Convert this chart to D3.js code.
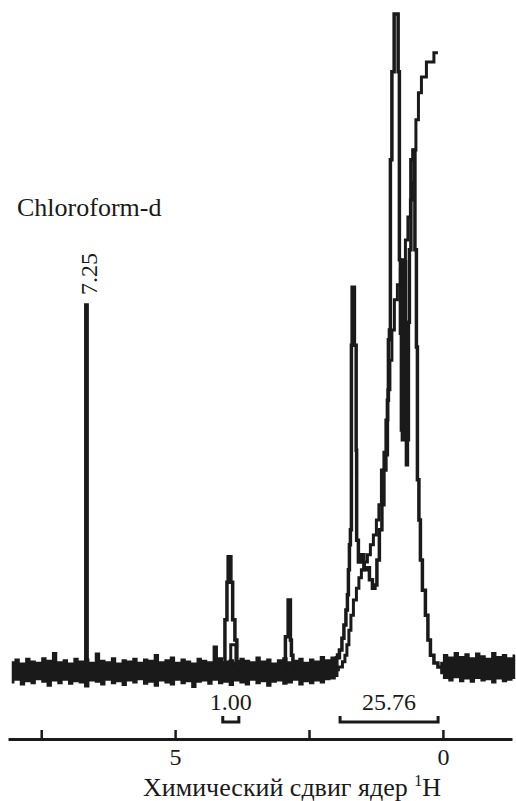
<!DOCTYPE html>
<html>
<head>
<meta charset="utf-8">
<script src="https://cdn.jsdelivr.net/npm/d3@7"></script>
<style>
  body { margin: 0; background: #fff; }
  svg { display: block; }
</style>
</head>
<body>
<svg id="chart" width="516" height="801"></svg>
<script>
//
// Data (ppm, intensity in % of tallest line)
//

var solventLabel = 'Chloroform-d'
var solventShift = '7.25'
var solventPeak = [[6.68, 0], [6.655, 55.7], [6.63, 0]]

var peakA = [[4.09, 1.7], [4.05, 7.8], [4.014, 13.5], [4.005, 17.4], [3.968, 17.4],
  [3.949, 13.5], [3.902, 7.8], [3.865, 4.7], [3.828, 1.4], [3.79, 0]]

var peakB = [[2.95, 0], [2.931, 5.2], [2.894, 5.2], [2.885, 10.8], [2.857, 10.8],
  [2.838, 4.7], [2.819, 2.4], [2.782, 0]]

var cluster = [[2.297, 0], [2.147, 0.5], [2.016, 1.1], [1.96, 2.0], [1.904, 3.2],
  [1.867, 5.0], [1.83, 7.0], [1.792, 9.3], [1.774, 11.6], [1.755, 15.4], [1.736, 19.2],
  [1.718, 21.5], [1.699, 49.6], [1.69, 58.4], [1.662, 58.4], [1.643, 49.6], [1.624, 49.6],
  [1.615, 33.6], [1.606, 19.9], [1.55, 16.6], [1.494, 17.7], [1.456, 15.4], [1.40, 15.7],
  [1.344, 13.9], [1.288, 12.6], [1.251, 13.1], [1.214, 16.9], [1.158, 21.5], [1.12, 25.3],
  [1.083, 30.6], [1.046, 32.9], [1.027, 41.2], [1.008, 50.4], [0.99, 51.9], [0.971, 77.8],
  [0.934, 91.2], [0.887, 100], [0.85, 100], [0.822, 91.2], [0.803, 62.6], [0.784, 51.4],
  [0.766, 36.7], [0.747, 35.2], [0.728, 61.5], [0.709, 62.3], [0.691, 35.2], [0.672, 31.4],
  [0.653, 35.2], [0.635, 53.1], [0.616, 64.1], [0.579, 77.8], [0.541, 79.3], [0.504, 64.1],
  [0.485, 49.3], [0.467, 29.1], [0.429, 23.0], [0.411, 16.9], [0.355, 12.3], [0.299, 8.5],
  [0.261, 4.7], [0.205, 2.4], [0.131, 1.2], [0.056, 0.6], [-0.037, 0]]

var integralSmall = [[4.02, 0.8], [3.902, 4.0], [3.828, 0.9]]

var integralBig = [[2.203, 0], [1.998, 0.2], [1.904, 0.6], [1.848, 1.4], [1.811, 2.4],
  [1.774, 4.0], [1.736, 6.2], [1.699, 8.5], [1.643, 10.8], [1.587, 12.6], [1.55, 14.2],
  [1.494, 15.4], [1.438, 16.6], [1.382, 17.7], [1.326, 19.2], [1.27, 20.7], [1.214, 23.0],
  [1.176, 25.3], [1.12, 30.6], [1.083, 33.3], [1.046, 38.2], [1.008, 42.8], [0.971, 47.3],
  [0.934, 51.9], [0.878, 56.5], [0.822, 58.8], [0.766, 61.0], [0.728, 62.6], [0.672, 65.6],
  [0.635, 69.1], [0.579, 71.7], [0.56, 74.3], [0.523, 79.3], [0.485, 83.9], [0.429, 88.0],
  [0.373, 90.4], [0.243, 92.7], [0.093, 94.1]]

// baseline noise envelope, one value every 0.1 ppm
var noiseLeftStart = 8.05
var noiseLeftTop = [1.5, 1.9, 1.3, 2.0, 1.6, 1.4, 2.1, 1.7, 2.9, 1.5,
  1.8, 1.3, 2.0, 1.6, 1.9, 1.4, 2.8, 1.7, 1.5, 2.1,
  1.3, 1.8, 1.6, 2.0, 1.4, 1.9, 1.7, 2.6, 1.5, 1.8,
  2.2, 1.4, 1.9, 1.6, 1.3, 2.0, 1.7, 1.5, 3.9, 2.1,
  1.6, 1.8, 1.4, 2.0, 1.7, 1.5, 2.2, 1.6, 1.9, 1.3,
  1.8, 2.1, 1.5, 1.7, 2.0, 1.4, 1.9, 1.6, 2.3, 1.8,
  2.2, 2.7]
var noiseLeftBot = [-1.9, -1.5, -2.2, -1.7, -2.0, -1.4, -1.8, -2.4, -1.6, -2.0,
  -1.5, -2.1, -1.7, -1.9, -2.5, -1.6, -1.8, -2.2, -1.5, -2.0,
  -1.7, -2.3, -1.6, -1.9, -1.4, -2.1, -1.8, -2.4, -1.6, -1.9,
  -2.2, -1.5, -2.0, -1.7, -2.6, -1.8, -1.6, -2.1, -1.5, -2.0,
  -1.8, -2.3, -1.6, -1.9, -2.2, -1.5, -2.0, -1.7, -2.4, -1.8,
  -1.6, -2.1, -1.9, -1.5, -2.2, -1.7, -2.0, -1.6, -1.9, -1.4,
  -1.3, -0.9]
var noiseRightStart = 0.05
var noiseRightTop = [1.4, 2.6, 2.2, 2.9, 2.3, 2.7, 2.1, 2.8, 2.4, 2.0, 2.9, 2.3, 2.6, 2.1, 2.5]
var noiseRightBot = [-0.5, -1.2, -1.6, -1.1, -1.7, -1.3, -1.8, -1.2, -1.6, -1.4, -1.9, -1.3, -1.7, -1.5, -1.2]
var noiseStep = 0.1

var integralFrom = [4.11, 1.92]
var integralTo = [3.81, 0.09]
var integralLabels = ['1.00', '25.76']

var axisTicks = [7.5, 5, 2.5, 0]
var axisLabelled = [5, 0]
var axisTitle = 'Химический сдвиг ядер '

//
// Scales
//

var width = 516, height = 801
var ink = '#1a1a1a'
var serif = '"Liberation Serif", "Times New Roman", "DejaVu Serif", serif'
var svg = d3.select('#chart')
var x = d3.scaleLinear().domain([8.12, -1.29]).range([8, 512])
var y = d3.scaleLinear().domain([0, 100]).range([671, 14])
var axisY = 739

svg.append('rect').attr('width', width).attr('height', height).attr('fill', '#fff')

// plotter-style trace: vertical risers between samples
var line = d3.line()
  .curve(d3.curveStep)
  .x(function (d) { return x(d[0]) })
  .y(function (d) { return y(d[1]) })

function noiseRows(start, top, bot) {
  return top.map(function (t, i) { return { p: start - i * noiseStep, t: t, b: bot[i] } })
}

var band = d3.area()
  .curve(d3.curveStep)
  .x(function (d) { return x(d.p) })
  .y0(function (d) { return y(d.b) })
  .y1(function (d) { return y(d.t) })

function label(sel, size) {
  return sel.attr('font-family', serif).attr('font-size', size).attr('fill', ink)
}

//
// Spectrum
//

svg.append('g').selectAll('path')
  .data([noiseRows(noiseLeftStart, noiseLeftTop, noiseLeftBot),
    noiseRows(noiseRightStart, noiseRightTop, noiseRightBot)])
  .join('path')
  .attr('d', band)
  .attr('fill', ink)

svg.append('g').selectAll('path')
  .data([solventPeak, peakA, peakB, cluster])
  .join('path')
  .attr('d', line)
  .attr('fill', 'none')
  .attr('stroke', ink)
  .attr('stroke-width', 3.5)

svg.append('g').selectAll('path')
  .data([integralSmall, integralBig])
  .join('path')
  .attr('d', line)
  .attr('fill', 'none')
  .attr('stroke', ink)
  .attr('stroke-width', 3)

// solvent labels
label(svg.append('text'), 26)
  .attr('x', 17).attr('y', 216)
  .text(solventLabel)

label(svg.append('text'), 24)
  .attr('transform', 'translate(' + (x(solventPeak[1][0]) + 11) + ',' + 295 + ') rotate(-90)')
  .text(solventShift)

//
// Integrals
//

var brackets = svg.append('g')
integralLabels.forEach(function (lab, i) {
  var x1 = x(integralFrom[i]), x2 = x(integralTo[i])
  brackets.append('path')
    .attr('d', 'M' + x1 + ',716V722H' + x2 + 'V716')
    .attr('fill', 'none')
    .attr('stroke', ink)
    .attr('stroke-width', 3)
  label(brackets.append('text'), 24)
    .attr('x', (x1 + x2) / 2).attr('y', 710)
    .attr('text-anchor', 'middle')
    .text(lab)
})

//
// Axis
//

var axis = d3.axisBottom(x)
  .tickValues(axisTicks)
  .tickSizeInner(-9)
  .tickSizeOuter(0)
  .tickPadding(9)
  .tickFormat(function (d) { return axisLabelled.indexOf(d) >= 0 ? d : '' })

var ax = svg.append('g')
  .attr('transform', 'translate(0,' + axisY + ')')
  .call(axis)

ax.select('.domain').attr('stroke', ink).attr('stroke-width', 3)
ax.selectAll('.tick line').attr('stroke', ink).attr('stroke-width', 2.5)
label(ax.selectAll('.tick text'), 24)

var title = label(svg.append('text'), 26)
  .attr('x', 292).attr('y', 796)
  .attr('text-anchor', 'middle')
title.append('tspan').text(axisTitle)
title.append('tspan').attr('font-size', 16).attr('dy', -10).text('1')
title.append('tspan').attr('dy', 10).text('H')
</script>
</body>
</html>
